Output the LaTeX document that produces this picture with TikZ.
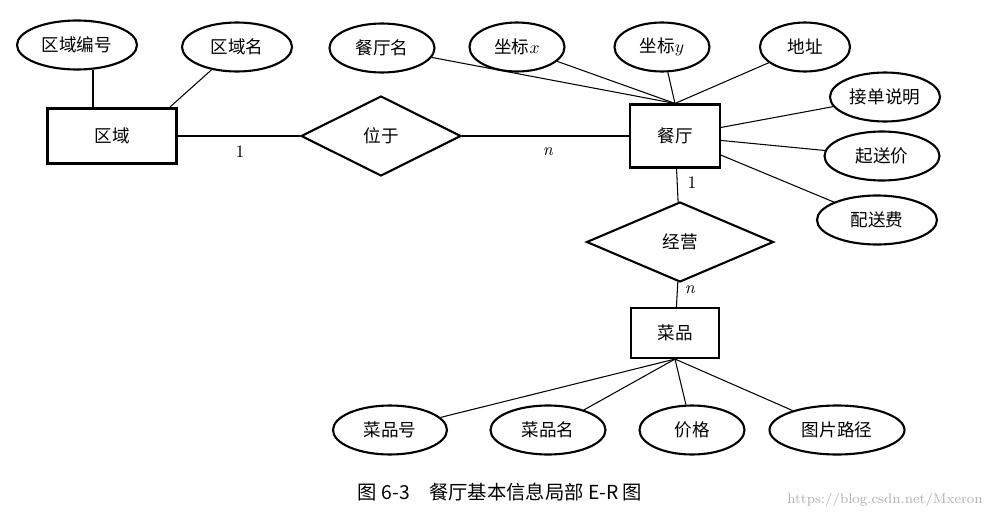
\documentclass[tikz,border=0pt]{standalone}
\usepackage{fontspec}
\newfontfamily\cjk{Noto Sans CJK SC}
\usetikzlibrary{shapes.geometric}
\begin{document}
\begin{tikzpicture}[x=0.02cm,y=-0.02cm,
 every node/.style={font=\cjk\fontsize{10}{12}\selectfont},
 ent/.style={draw,line width=1.2pt,minimum width=#1*0.02cm,minimum height=1.1cm,inner sep=0},
 att/.style={draw,ellipse,line width=1.2pt,minimum width=#1*0.02cm,minimum height=0.98cm,inner sep=0},
 rel/.style={draw,diamond,line width=1.2pt,minimum width=#1*0.02cm,minimum height=1.6cm,inner sep=0,aspect=2.1},
 ln/.style={line width=0.6pt},
 lab/.style={font=\rmfamily\fontsize{10}{12}\selectfont}]
\useasboundingbox (0,0) rectangle (985,521);
\node[ent=129] (qy) at (112,136) {区域};
\node[att=120] (qybh) at (77,45) {区域编号};
\node[att=110] (qym) at (237,47) {区域名};
\node[rel=160] (wy) at (381,136) {位于};
\node[ent=90,minimum height=1.26cm] (ct) at (675,136) {餐厅};
\node[att=105] (ctm) at (382,48) {餐厅名};
\node[att=95] (zx) at (517,47) {坐标$x$};
\node[att=95] (zy) at (662,47) {坐标$y$};
\node[att=90] (dz) at (805,47) {地址};
\node[att=110] (jd) at (885,97) {接单说明};
\node[att=115] (qs) at (882,156) {起送价};
\node[att=120] (ps) at (877,220) {配送费};
\node[rel=187] (jy) at (680,242) {经营};
\node[ent=88,minimum height=1cm] (cp) at (675,333) {菜品};
\node[att=114] (cph) at (390,430) {菜品号};
\node[att=115] (cpm) at (548,430) {菜品名};
\node[att=105] (jg) at (692,430) {价格};
\node[att=135] (tp) at (837,430) {图片路径};
\draw[ln] (93,70) -- (93,107);
\draw[ln] (qym) -- (170,107);
\draw[ln] (qy) -- (wy) (wy) -- (ct);
\foreach \a in {ctm,zx,zy,dz} \draw[ln] (\a) -- (ct.north);
\foreach \a in {jd,qs,ps} \draw[ln] (\a) -- (ct);
\draw[ln] (ct) -- (jy) (jy) -- (cp);
\foreach \a in {cph,cpm,jg,tp} \draw[ln] (\a) -- (cp.south);
\node[lab] (l1) at (240,152) {1};
\node[lab] (l2) at (548,152) {\textit{n}};
\node[lab] (l3) at (692,183) {1};
\node[lab] (l4) at (690,290) {\textit{n}};
\node[font=\cjk\fontsize{11}{13}\selectfont] (cap) at (500,492) {图 6-3\quad 餐厅基本信息局部 E-R 图};
\node[font=\rmfamily\fontsize{8}{10}\selectfont,text=gray!60] (wm) at (885,500) {https://blog.csdn.net/Mxeron};
\end{tikzpicture}
\end{document}
